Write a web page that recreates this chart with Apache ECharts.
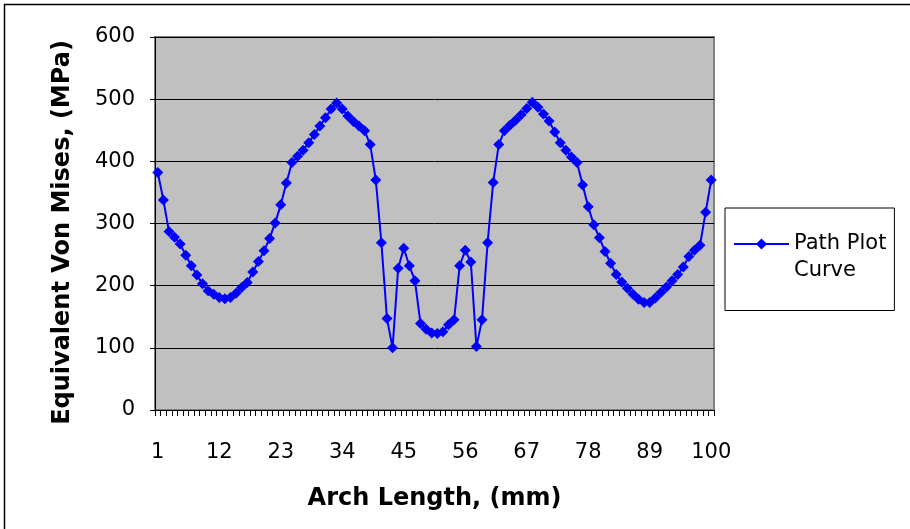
<!DOCTYPE html>
<html>
<head>
<meta charset="utf-8">
<script src="https://cdn.jsdelivr.net/npm/echarts@6/dist/echarts.min.js"></script>
<style>
  html, body { margin: 0; padding: 0; background: #fff; }
  #chart { width: 910px; height: 529px; }
</style>
</head>
<body>
<div id="chart"></div>
<script>
// Arch positions along the path (category axis)
const archPositions = [
  1, 2, 3, 4, 5, 6, 7, 8, 9, 10,
  11, 12, 13, 14, 15, 16, 17, 18, 19, 20,
  21, 22, 23, 24, 25, 26, 27, 28, 29, 30,
  31, 32, 33, 34, 35, 36, 37, 38, 39, 40,
  41, 42, 43, 44, 45, 46, 47, 48, 49, 50,
  51, 52, 53, 54, 55, 56, 57, 58, 59, 60,
  61, 62, 63, 64, 65, 66, 67, 68, 69, 70,
  71, 72, 73, 74, 75, 76, 77, 78, 79, 80,
  81, 82, 83, 84, 85, 86, 87, 88, 89, 90,
  91, 92, 93, 94, 95, 96, 97, 98, 99, 100
];

// Equivalent von Mises stress along the path, MPa
const vonMises = [
  382, 338, 287, 278, 267, 249, 232, 217, 203, 192,
  186, 181, 179, 181, 188, 197, 205, 222, 239, 256,
  276, 301, 330, 365, 398, 408, 418, 430, 443, 457,
  470, 484, 494, 484, 473, 464, 457, 449, 427, 370,
  269, 147, 100, 228, 260, 232, 208, 139, 130, 124,
  123, 126, 137, 145, 232, 257, 238, 102, 145, 269,
  366, 427, 449, 458, 466, 475, 485, 495, 487, 476,
  465, 447, 430, 418, 407, 398, 362, 327, 298, 277,
  255, 236, 218, 206, 196, 186, 178, 173, 173, 180,
  189, 198, 208, 218, 230, 247, 257, 265, 318, 370
];

const seriesName = 'Path Plot Curve';
const xTitle = 'Arch Length, (mm)';
const yTitle = 'Equivalent Von Mises, (MPa)';

const FONT = 'DejaVu Sans';

const chart = echarts.init(document.getElementById('chart'), null, { renderer: 'canvas' });

chart.setOption({
  backgroundColor: '#ffffff',
  animation: false,
  graphic: [{
    type: 'rect',
    z: -10,
    shape: { x: 4.5, y: 4.5, width: 1000, height: 1000 },
    style: { fill: 'none', stroke: '#000000', lineWidth: 1.5 }
  }],
  grid: {
    left: 155, top: 37, width: 559, height: 373,
    show: true,
    backgroundColor: '#C0C0C0',
    borderColor: '#808080',
    borderWidth: 2
  },
  legend: {
    left: 725, top: 208,
    orient: 'vertical',
    itemWidth: 55, itemHeight: 14,
    padding: [25, 8, 29, 8],
    borderColor: '#000000', borderWidth: 1, borderRadius: 0,
    backgroundColor: '#ffffff',
    // two-line label: the first line sits level with the marker
    formatter: function (name) {
      const parts = name.split(' Curve');
      return '{first|' + parts[0] + '}\n{second|Curve}';
    },
    textStyle: {
      fontFamily: FONT, fontSize: 21, color: '#000000',
      rich: {
        first: { fontFamily: FONT, fontSize: 21, color: '#000000', lineHeight: 54 },
        second: { fontFamily: FONT, fontSize: 21, color: '#000000', lineHeight: 1 }
      }
    },
    data: [seriesName]
  },
  xAxis: {
    type: 'category',
    data: archPositions,
    boundaryGap: true,
    name: xTitle,
    nameLocation: 'middle',
    nameGap: 77,
    nameTextStyle: { fontFamily: FONT, fontSize: 24, fontWeight: 'bold', color: '#000000' },
    axisLine: { show: true, lineStyle: { color: '#000000', width: 1 } },
    axisTick: { show: true, interval: 0, length: 6, lineStyle: { color: '#000000', width: 1 } },
    axisLabel: { interval: 10, margin: 32, fontFamily: FONT, fontSize: 21, color: '#000000' },
    splitLine: { show: false }
  },
  yAxis: {
    type: 'value',
    min: 0, max: 600, interval: 100,
    name: yTitle,
    nameLocation: 'middle',
    nameRotate: 90,
    nameGap: 80,
    nameTextStyle: {
      fontFamily: FONT, fontSize: 24, fontWeight: 'bold', color: '#000000',
      padding: [0, 18, 0, 0]
    },
    axisLine: { show: true, lineStyle: { color: '#000000', width: 1 } },
    axisTick: { show: true, length: 5, lineStyle: { color: '#000000', width: 1 } },
    axisLabel: { margin: 20, fontFamily: FONT, fontSize: 21, color: '#000000' },
    splitLine: { show: true, lineStyle: { color: '#000000', width: 1 } }
  },
  series: [{
    name: seriesName,
    type: 'line',
    data: vonMises,
    symbol: 'diamond',
    symbolSize: 11,
    showAllSymbol: true,
    lineStyle: { color: '#0000FF', width: 2 },
    itemStyle: { color: '#0000FF' }
  }]
});
</script>
</body>
</html>
